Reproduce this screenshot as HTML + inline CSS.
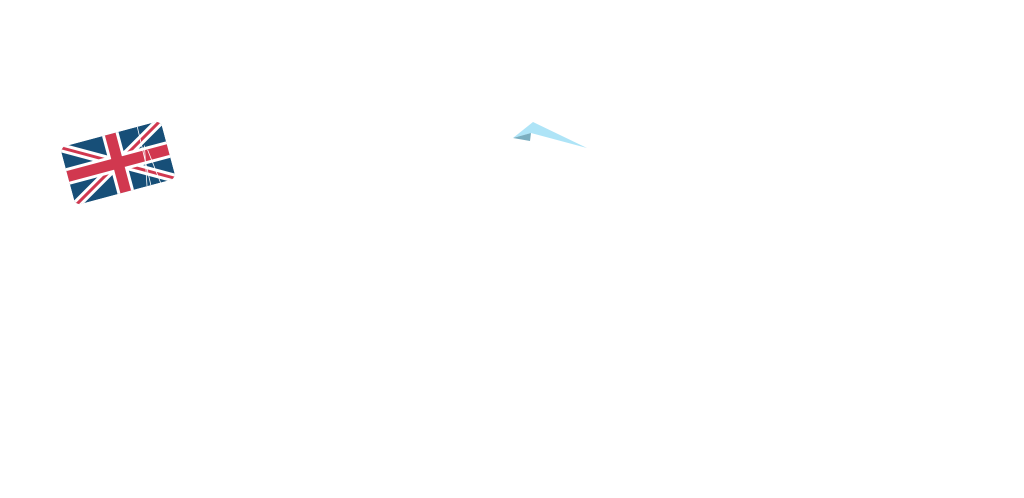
<!DOCTYPE html>
<html><head><style>html,body{margin:0;padding:0;background:#fff;width:1024px;height:498px;overflow:hidden}</style></head>
<body>
<svg width="1024" height="498" viewBox="0 0 1024 498" xmlns="http://www.w3.org/2000/svg">
<defs><clipPath id="c"><rect x="-52" y="-30" width="104" height="60" rx="6"/></clipPath></defs>
<g transform="translate(118,163) rotate(-15)">
<g clip-path="url(#c)">
<rect x="-52" y="-30" width="104" height="60" fill="#174f78"/>
<path d="M-52,-30 L52,30 M52,-30 L-52,30" stroke="#fff" stroke-width="9"/>
<path d="M-52,-30 L52,30 M52,-30 L-52,30" stroke="#d1384f" stroke-width="3"/>
<path d="M0,-30 V30 M-52,0 H52" stroke="#fff" stroke-width="17"/>
<path d="M0,-30 V30 M-52,0 H52" stroke="#d1384f" stroke-width="11"/>
<path d="M28,-30 L26,30 M30,-10 L22,30 M32,-5 L36,30" stroke="#fff" stroke-width="0.8" fill="none"/>
</g>
</g>
<polygon points="533,122 587,148 531,133 513,138" fill="#aee4f7"/>
<polygon points="513,138 531,133 530,141" fill="#7aaec0"/>
</svg>
</body></html>
